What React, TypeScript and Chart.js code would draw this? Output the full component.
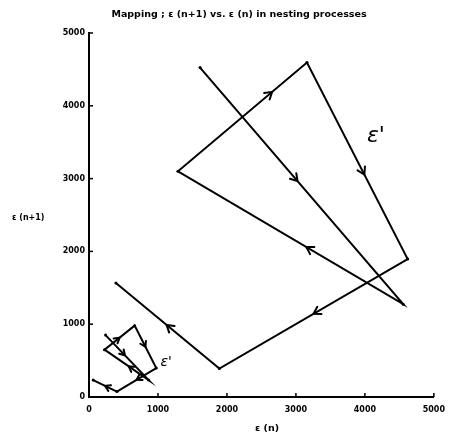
import React, { useEffect, useRef } from "react";
import { Chart, registerables } from "chart.js";

Chart.register(...registerables);

const titleText = "Mapping ; ε (n+1) vs. ε (n) in nesting processes";
const xAxisLabel = "ε (n)";
const yAxisLabel = "ε (n+1)";
const xTickValues = [0, 1000, 2000, 3000, 4000, 5000];
const yTickValues = [0, 1000, 2000, 3000, 4000, 5000];

// Large loop (ε'')
const bigX = [1610, 4555, 1290, 3160, 4620, 1890, 390];
const bigY = [4525, 1275, 3100, 4595, 1895, 390, 1565];
// Small loop (ε')
const smallX = [240, 865, 225, 662, 975, 405, 61];
const smallY = [850, 233, 650, 980, 397, 75, 233];

const bigLabel = "ε'";
const smallLabel = "ε'";

const bigArrowFracs = [0.48, 0.43, 0.73, 0.57, 0.5, 0.51];
const smallArrowFracs = [0.45, 0.45, 0.5, 0.5, 0.5, 0.5];

const tickFont = { family: "DejaVu Sans", size: 8, weight: "bold" as const };

const arrowPlugin = {
  id: "arrowPlugin",
  afterDatasetsDraw(chart: any) {
    const ctx = chart.ctx;
    chart.data.datasets.forEach((ds: any, i: number) => {
      const meta = chart.getDatasetMeta(i);
      const pts = meta.data;
      const fracs: number[] = ds.arrowFracs || [];
      ctx.save();
      ctx.strokeStyle = "#000";
      ctx.lineWidth = 2;
      ctx.lineCap = "round";
      for (let k = 0; k < pts.length - 1; k++) {
        const p0 = pts[k];
        const p1 = pts[k + 1];
        const f = fracs[k] ?? 0.5;
        const tx = p0.x + (p1.x - p0.x) * f;
        const ty = p0.y + (p1.y - p0.y) * f;
        const ang = Math.atan2(p1.y - p0.y, p1.x - p0.x);
        const len = ds.arrowLen || 7;
        const spread = 0.55;
        ctx.beginPath();
        ctx.moveTo(tx + len * Math.cos(ang + Math.PI - spread), ty + len * Math.sin(ang + Math.PI - spread));
        ctx.lineTo(tx, ty);
        ctx.lineTo(tx + len * Math.cos(ang + Math.PI + spread), ty + len * Math.sin(ang + Math.PI + spread));
        ctx.stroke();
      }
      ctx.restore();
    });
  },
};

const decorPlugin = {
  id: "decorPlugin",
  afterDraw(chart: any) {
    const ctx = chart.ctx;
    const xs = chart.scales.x;
    const ys = chart.scales.y;
    const area = chart.chartArea;
    ctx.save();
    // inward tick marks
    ctx.strokeStyle = "#000";
    ctx.lineWidth = 1.5;
    xTickValues.forEach((v) => {
      const px = xs.getPixelForValue(v);
      ctx.beginPath();
      ctx.moveTo(px, area.bottom);
      ctx.lineTo(px, area.bottom - 4);
      ctx.stroke();
    });
    yTickValues.forEach((v) => {
      const py = ys.getPixelForValue(v);
      ctx.beginPath();
      ctx.moveTo(area.left, py);
      ctx.lineTo(area.left + 4, py);
      ctx.stroke();
    });
    // texts
    ctx.fillStyle = "#000";
    ctx.textBaseline = "middle";
    ctx.textAlign = "center";
    ctx.font = 'bold 9.5px "DejaVu Sans"';
    ctx.fillText(titleText, 239, 15);
    ctx.font = 'bold 9.5px "DejaVu Sans"';
    ctx.fillText(xAxisLabel, 267, 429);
    ctx.font = 'bold 8px "DejaVu Sans"';
    ctx.textAlign = "left";
    ctx.fillText(yAxisLabel, 12, 218);
    // loop labels
    ctx.textAlign = "center";
    ctx.font = 'italic 22px "DejaVu Sans"';
    ctx.fillText(bigLabel, xs.getPixelForValue(4160), ys.getPixelForValue(3580));
    ctx.font = 'italic 14px "DejaVu Sans"';
    ctx.fillText(smallLabel, xs.getPixelForValue(1120), ys.getPixelForValue(480));
    ctx.restore();
  },
};

export default function App() {
  const ref = useRef<HTMLCanvasElement | null>(null);
  useEffect(() => {
    document.body.style.margin = "0";
    const canvas = ref.current;
    if (!canvas) return;
    const chart = new Chart(canvas, {
      type: "scatter",
      data: {
        datasets: [
          {
            label: "big",
            data: bigX.map((x, i) => ({ x, y: bigY[i] })),
            showLine: true,
            borderColor: "#000",
            backgroundColor: "#000",
            borderWidth: 2,
            pointRadius: 1.5,
            pointBorderWidth: 0,
            tension: 0,
            arrowFracs: bigArrowFracs,
            arrowLen: 8,
          } as any,
          {
            label: "small",
            data: smallX.map((x, i) => ({ x, y: smallY[i] })),
            showLine: true,
            borderColor: "#000",
            backgroundColor: "#000",
            borderWidth: 2,
            pointRadius: 1.5,
            pointBorderWidth: 0,
            tension: 0,
            arrowFracs: smallArrowFracs,
            arrowLen: 6,
          } as any,
        ],
      },
      options: {
        responsive: false,
        animation: false,
        layout: { padding: { top: 33, right: 10, left: 0, bottom: 0 } },
        plugins: {
          legend: { display: false },
          tooltip: { enabled: false },
          title: { display: false },
        },
        scales: {
          x: {
            type: "linear",
            min: 0,
            max: 5000,
            afterBuildTicks: (s: any) => {
              s.ticks = xTickValues.map((v) => ({ value: v }));
            },
            afterFit: (s: any) => {
              s.height = 43;
            },
            grid: { display: false, drawTicks: false },
            border: { display: true, color: "#000", width: 2 },
            ticks: {
              color: "#000",
              font: tickFont,
              padding: 8,
              maxRotation: 0,
              autoSkip: false,
              callback: (v: any) => String(v),
            },
          },
          y: {
            type: "linear",
            min: 0,
            max: 5000,
            afterBuildTicks: (s: any) => {
              s.ticks = yTickValues.map((v) => ({ value: v }));
            },
            afterFit: (s: any) => {
              s.width = 89;
            },
            grid: { display: false, drawTicks: false },
            border: { display: true, color: "#000", width: 2 },
            ticks: {
              color: "#000",
              font: tickFont,
              padding: 4,
              autoSkip: false,
              callback: (v: any) => String(v),
            },
          },
        },
      },
      plugins: [arrowPlugin, decorPlugin],
    });
    return () => chart.destroy();
  }, []);
  return (
    <div style={{ width: 453, height: 440, background: "#fff" }}>
      <canvas ref={ref} width={453} height={440} />
    </div>
  );
}
